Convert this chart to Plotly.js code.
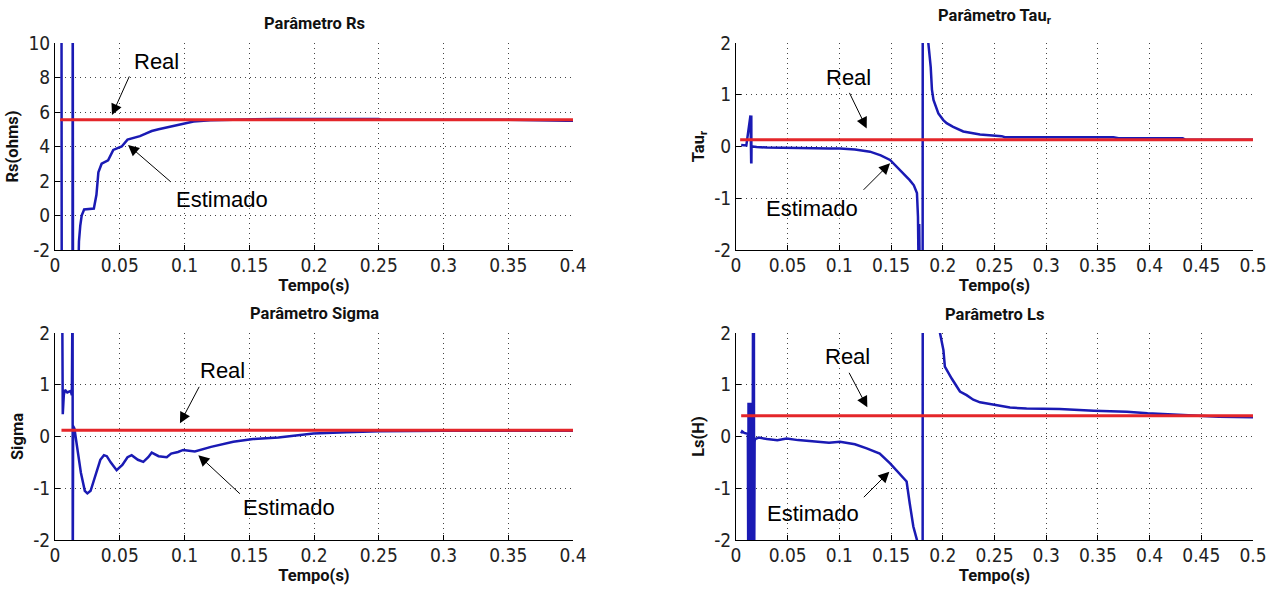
<!DOCTYPE html>
<html><head><meta charset="utf-8">
<script src="https://cdn.plot.ly/plotly-3.0.1.min.js"></script>
<style>html,body{margin:0;padding:0;background:#fff}#chart{width:1281px;height:590px}</style>
</head><body><div id="chart"></div><script>
// ---------- data ----------
// Parâmetro Rs
var rsT = [0.0050,0.0052,0.0135,0.0137,0.0139,0.0178,0.0185,0.0195,0.0206,0.0225,0.0260,0.0300,0.0320,0.0335,0.0360,0.0410,0.0450,0.0515,0.0560,0.0610,0.0656,0.0700,0.0747,0.0800,0.0863,0.0920,0.0965,0.1020,0.1070,0.1200,0.1400,0.1700,0.2000,0.2500,0.2520,0.3000,0.3500,0.3950,0.4000];
var rsV = [14,-4,-4,14,-4,-4,-1.5,-0.6,0.0,0.35,0.38,0.40,1.2,2.5,3.0,3.2,3.8,4.0,4.4,4.5,4.6,4.75,4.9,5.0,5.1,5.2,5.3,5.35,5.45,5.52,5.55,5.6,5.6,5.6,5.55,5.55,5.55,5.5,5.5];
var rsRealT = [0.004, 0.4];
var rsRealV = [5.55, 5.55];
// Parâmetro Tau_r
var tauT = [0.005,0.010,0.0140,0.0141,0.0142,0.0143,0.0144,0.0145,0.0146,0.0147,0.0148,0.0149,0.0150,0.016,0.020,0.030,0.050,0.070,0.090,0.1006,0.115,0.1296,0.140,0.149,0.1586,0.168,0.172,0.175,0.176,0.1763,0.1766,0.1769,0.1772,0.1775,0.1780,0.1805,0.1806,0.1855,0.186,0.1883,0.1895,0.191,0.1957,0.2005,0.2037,0.210,0.2198,0.236,0.249,0.257,0.260,0.300,0.365,0.370,0.432,0.435,0.500];
var tauV = [0.03,0.02,0.6,-0.33,0.6,-0.33,0.6,-0.33,0.6,-0.33,0.6,-0.33,0.0,0.0,-0.01,-0.02,-0.03,-0.03,-0.04,-0.04,-0.06,-0.1,-0.17,-0.26,-0.45,-0.65,-0.75,-0.9,-1.36,-3,-1.4,-3,-1.5,-3,-3,-3,3,3,2.0,1.54,1.1,0.9,0.64,0.51,0.45,0.38,0.29,0.23,0.22,0.20,0.18,0.18,0.18,0.16,0.16,0.13,0.13];
var tauRealT = [0.004, 0.5];
var tauRealV = [0.13, 0.13];
// Parâmetro Sigma
var sigT = [0.0055,0.0057,0.0060,0.0068,0.0077,0.0095,0.0121,0.0130,0.0136,0.0137,0.0140,0.0150,0.0170,0.0200,0.0230,0.0250,0.0275,0.0300,0.0320,0.0350,0.0378,0.0400,0.0430,0.0476,0.0520,0.0560,0.0592,0.0640,0.0682,0.0720,0.0747,0.0800,0.0863,0.0897,0.0950,0.0990,0.1080,0.1205,0.1377,0.1530,0.1725,0.1995,0.2250,0.2500,0.3000,0.3500,0.4000];
var sigV = [3,1.2,0.43,0.8,0.9,0.85,0.88,0.8,3,-3,0.2,0.15,-0.2,-0.7,-1.05,-1.1,-1.05,-0.85,-0.65,-0.45,-0.36,-0.38,-0.5,-0.65,-0.55,-0.4,-0.36,-0.45,-0.49,-0.4,-0.31,-0.38,-0.4,-0.33,-0.3,-0.26,-0.29,-0.2,-0.1,-0.05,-0.02,0.06,0.08,0.1,0.11,0.11,0.11];
var sigRealT = [0.005, 0.4];
var sigRealV = [0.12, 0.12];
// Parâmetro Ls
var lsT = [0.005,0.006,0.008,0.010,0.0115,0.0119,0.0121,0.0123,0.0125,0.0127,0.0129,0.0131,0.0133,0.0135,0.0137,0.0139,0.0141,0.0143,0.0145,0.0147,0.0149,0.0151,0.0153,0.0155,0.0157,0.0159,0.0161,0.0163,0.0165,0.0167,0.0169,0.0171,0.0173,0.0175,0.0180,0.0184,0.022,0.030,0.040,0.049,0.060,0.075,0.090,0.1006,0.115,0.1264,0.139,0.149,0.1586,0.165,0.168,0.1715,0.175,0.176,0.1805,0.1806,0.1970,0.1973,0.2006,0.2020,0.2086,0.2135,0.2166,0.2230,0.2295,0.2360,0.2490,0.2650,0.2810,0.3130,0.3460,0.3780,0.3980,0.4280,0.4670,0.5000];
var lsV = [0.06,0.1,0.07,0.05,0.05,-3,0.65,-3,0.6,-3,0.65,-3,0.6,-3,0.65,-3,0.6,-3,0.65,-3,0.6,-3,0.65,-3,0.6,-3,3,-3,3,-3,3,-3,3,-3,-0.1,-0.05,-0.02,-0.05,-0.07,-0.04,-0.07,-0.1,-0.12,-0.1,-0.15,-0.23,-0.33,-0.52,-0.74,-0.87,-1.29,-1.74,-2.0,-3,-3,3,3,2.0,1.67,1.35,1.12,0.96,0.87,0.8,0.71,0.66,0.61,0.56,0.54,0.53,0.5,0.48,0.45,0.42,0.38,0.37];
var lsRealT = [0.005, 0.5];
var lsRealV = [0.4, 0.4];
// ticks
var xTicksA = [0,0.05,0.1,0.15,0.2,0.25,0.3,0.35,0.4];
var xTicksB = [0,0.05,0.1,0.15,0.2,0.25,0.3,0.35,0.4,0.45,0.5];
var yTicksRs = [-2,0,2,4,6,8,10];
var yTicksSmall = [-2,-1,0,1,2];

// ---------- styling ----------
var BLUE = '#1a1ab4', RED = '#e4262a';
var tickFont = {family:'"DejaVu Sans Condensed","Liberation Sans",Arial,sans-serif', size:19, color:'#222'};
var boldFont = {family:'Roboto,"Liberation Sans",Arial,sans-serif', size:16.5, color:'#111', weight:'bold'};
var annFont = {family:'"Liberation Sans",Arial,sans-serif', size:22, color:'#000'};

function est(x,y,xa,ya){return {x:x,y:y,xaxis:xa,yaxis:ya,type:'scatter',mode:'lines',line:{color:BLUE,width:2.5},hoverinfo:'skip'};}
function real(x,y,xa,ya){return {x:x,y:y,xaxis:xa,yaxis:ya,type:'scatter',mode:'lines',line:{color:RED,width:3},hoverinfo:'skip'};}

var data = [
  est(rsT,rsV,'x','y'), real(rsRealT,rsRealV,'x','y'),
  est(tauT,tauV,'x2','y2'), real(tauRealT,tauRealV,'x2','y2'),
  est(sigT,sigV,'x3','y3'), real(sigRealT,sigRealV,'x3','y3'),
  est(lsT,lsV,'x4','y4'), real(lsRealT,lsRealV,'x4','y4')
];

function xAx(dom, anchor, range, ticks){
  return {domain:dom, anchor:anchor, range:range, tickvals:ticks, ticktext:ticks.map(String),
    showline:true, linecolor:'#000', linewidth:1, ticks:'inside', ticklen:5, tickcolor:'#000',
    showgrid:true, gridcolor:'#444', gridwidth:1, griddash:'1px,4px', zeroline:false,
    tickfont:tickFont, fixedrange:true, ticklabelstandoff:-2,
    title:{text:'Tempo(s)', font:boldFont, standoff:2}};
}
function yAx(dom, anchor, range, ticks, label){
  return {domain:dom, anchor:anchor, range:range, tickvals:ticks, ticktext:ticks.map(String),
    showline:true, linecolor:'#000', linewidth:1, ticks:'inside', ticklen:5, tickcolor:'#000',
    showgrid:true, gridcolor:'#444', gridwidth:1, griddash:'1px,4px', zeroline:false,
    tickfont:tickFont, fixedrange:true,
    title:{text:label, font:boldFont, standoff:5}};
}
var xL=[55/1281,573/1281], xR=[736/1281,1253/1281];
var yT=[(590-250)/590,(590-43)/590], yB=[(590-540)/590,(590-333)/590];

function txt(xr,yr,x,y,s){return {xref:xr,yref:yr,x:x,y:y,text:s,showarrow:false,font:annFont,xanchor:'center',yanchor:'middle'};}
function arr(xr,yr,x,y,ax,ay){return {xref:xr,yref:yr,x:x,y:y,text:'',showarrow:true,ax:ax,ay:ay,axref:'pixel',ayref:'pixel',arrowhead:2,arrowsize:2.2,arrowwidth:1,arrowcolor:'#000',standoff:0,startstandoff:0};}
function ttl(x,y,s){return {xref:'paper',yref:'paper',x:x,y:y,text:s,showarrow:false,font:boldFont,xanchor:'center',yanchor:'middle'};}

var annotations = [
  ttl(314/1281,(590-23.5)/590,'Parâmetro Rs'),
  ttl(994.5/1281,(590-17)/590,'Parâmetro Tau<sub>r</sub>'),
  ttl(314/1281,(590-313)/590,'Parâmetro Sigma'),
  ttl(994.5/1281,(590-314)/590,'Parâmetro Ls'),
  txt('x','y',0.078,8.9,'Real'), arr('x','y',0.044,5.83,18,-40),
  txt('x','y',0.129,0.9,'Estimado'), arr('x','y',0.0564,4.09,44,38),
  txt('x2','y2',0.109,1.33,'Real'), arr('x2','y2',0.1264,0.35,-18,-37),
  txt('x2','y2',0.0732,-1.19,'Estimado'), arr('x2','y2',0.149,-0.325,-28,28),
  txt('x3','y3',0.1297,1.27,'Real'), arr('x3','y3',0.0965,0.255,20,-38),
  txt('x3','y3',0.1807,-1.38,'Estimado'), arr('x3','y3',0.1107,-0.36,43,40),
  txt('x4','y4',0.1083,1.54,'Real'), arr('x4','y4',0.127,0.564,-19,-36),
  txt('x4','y4',0.0748,-1.48,'Estimado'), arr('x4','y4',0.1483,-0.68,-27,27)
];

var layout = {
  width:1281, height:590, margin:{l:0,r:0,t:0,b:0},
  paper_bgcolor:'#fff', plot_bgcolor:'#fff', showlegend:false,
  xaxis: xAx(xL,'y',[0,0.4],xTicksA),
  yaxis: yAx(yT,'x',[-2,10],yTicksRs,'Rs(ohms)'),
  xaxis2: xAx(xR,'y2',[0,0.5],xTicksB),
  yaxis2: yAx(yT,'x2',[-2,2],yTicksSmall,'Tau<sub>r</sub>'),
  xaxis3: xAx(xL,'y3',[0,0.4],xTicksA),
  yaxis3: yAx(yB,'x3',[-2,2],yTicksSmall,'Sigma'),
  xaxis4: xAx(xR,'y4',[0,0.5],xTicksB),
  yaxis4: yAx(yB,'x4',[-2,2],yTicksSmall,'Ls(H)'),
  annotations: annotations
};
Plotly.newPlot('chart', data, layout, {displayModeBar:false, staticPlot:true});
</script></body></html>
